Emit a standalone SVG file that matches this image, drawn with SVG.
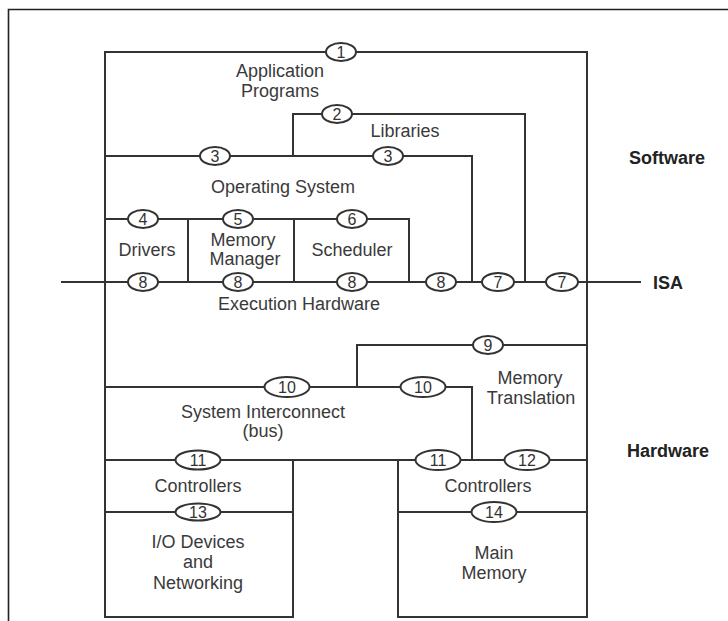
<svg xmlns="http://www.w3.org/2000/svg" width="728" height="621" viewBox="0 0 728 621">
  <style>
    .frame { fill: none; stroke: #222; stroke-width: 1.6; }
    .wire { fill: none; stroke: #333; stroke-width: 2; stroke-linejoin: miter; stroke-linecap: square; }
    .port ellipse { fill: #fff; stroke: #333; stroke-width: 2; }
    .port text { font-family: "Liberation Sans", Arial, sans-serif; font-size: 16px; fill: #333; text-anchor: middle; }
    .label { font-family: "Liberation Sans", Arial, sans-serif; font-size: 18px; fill: #3a3a3a; text-anchor: middle; }
    .side { font-family: "Liberation Sans", Arial, sans-serif; font-size: 18px; font-weight: bold; fill: #222; }
  </style>

  <!-- page frame -->
  <path class="frame" d="M8.5,621 V9.5 H728"/>

  <!-- interface lines between layers -->
  <g id="connectors">
    <!-- outer outline of the whole stack -->
    <path class="wire" d="M105,617 V52 H587 V617"/>
    <!-- libraries boundary (2) -->
    <path class="wire" d="M293,156 V114 H525 V282"/>
    <!-- OS boundary (3) -->
    <path class="wire" d="M105,156 H472 V282"/>
    <!-- OS module boxes -->
    <path class="wire" d="M105,219 H409 V282"/>
    <path class="wire" d="M188,219 V282"/>
    <path class="wire" d="M294,219 V282"/>
    <!-- ISA -->
    <path class="wire" d="M62,282 H640"/>
    <!-- memory translation (9) -->
    <path class="wire" d="M357,387 V345 H587"/>
    <!-- system interconnect (10) -->
    <path class="wire" d="M105,387 H472 V460"/>
    <!-- controllers (11, 12) -->
    <path class="wire" d="M105,460 H587"/>
    <!-- I/O devices box -->
    <path class="wire" d="M105,512 H293"/>
    <path class="wire" d="M293,460 V617 H105"/>
    <!-- main memory box -->
    <path class="wire" d="M398,460 V617 H587"/>
    <path class="wire" d="M398,512 H587"/>
  </g>

  <!-- layers -->
  <g id="application-programs">
    <text class="label" x="280" y="77">Application</text>
    <text class="label" x="280" y="97">Programs</text>
  </g>
  <g id="libraries">
    <text class="label" x="405" y="137">Libraries</text>
  </g>
  <g id="operating-system">
    <text class="label" x="283" y="193">Operating System</text>
  </g>
  <g id="drivers">
    <text class="label" x="147" y="256">Drivers</text>
  </g>
  <g id="memory-manager">
    <text class="label" x="243" y="246">Memory</text>
    <text class="label" x="245" y="265">Manager</text>
  </g>
  <g id="scheduler">
    <text class="label" x="352" y="256">Scheduler</text>
  </g>
  <g id="execution-hardware">
    <text class="label" x="299" y="310">Execution Hardware</text>
  </g>
  <g id="memory-translation">
    <text class="label" x="530" y="384">Memory</text>
    <text class="label" x="531" y="404">Translation</text>
  </g>
  <g id="system-interconnect">
    <text class="label" x="263" y="418">System Interconnect</text>
    <text class="label" x="263" y="437">(bus)</text>
  </g>
  <g id="io-controllers">
    <text class="label" x="198" y="492">Controllers</text>
  </g>
  <g id="io-devices">
    <text class="label" x="198" y="548">I/O Devices</text>
    <text class="label" x="198" y="568">and</text>
    <text class="label" x="198" y="589">Networking</text>
  </g>
  <g id="memory-controllers">
    <text class="label" x="488" y="492">Controllers</text>
  </g>
  <g id="main-memory">
    <text class="label" x="494" y="559">Main</text>
    <text class="label" x="494" y="579">Memory</text>
  </g>

  <!-- side captions -->
  <g id="software"><text class="side" x="629" y="164">Software</text></g>
  <g id="isa"><text class="side" x="653" y="289">ISA</text></g>
  <g id="hardware"><text class="side" x="627" y="457">Hardware</text></g>

  <!-- numbered interfaces -->
  <g id="if-1" class="port"><ellipse cx="341" cy="52" rx="15" ry="9"/><text x="341" y="58">1</text></g>
  <g id="if-2" class="port"><ellipse cx="337" cy="114" rx="15" ry="9"/><text x="337" y="120">2</text></g>
  <g id="if-3a" class="port"><ellipse cx="215" cy="156" rx="15" ry="9"/><text x="215" y="162">3</text></g>
  <g id="if-3b" class="port"><ellipse cx="388" cy="156" rx="15" ry="9"/><text x="388" y="162">3</text></g>
  <g id="if-4" class="port"><ellipse cx="143" cy="219" rx="15" ry="9"/><text x="143" y="225">4</text></g>
  <g id="if-5" class="port"><ellipse cx="238" cy="219" rx="15" ry="9"/><text x="238" y="225">5</text></g>
  <g id="if-6" class="port"><ellipse cx="352" cy="219" rx="15" ry="9"/><text x="352" y="225">6</text></g>
  <g id="if-8a" class="port"><ellipse cx="143" cy="282" rx="15" ry="9"/><text x="143" y="288">8</text></g>
  <g id="if-8b" class="port"><ellipse cx="238" cy="282" rx="15" ry="9"/><text x="238" y="288">8</text></g>
  <g id="if-8c" class="port"><ellipse cx="352" cy="282" rx="15" ry="9"/><text x="352" y="288">8</text></g>
  <g id="if-8d" class="port"><ellipse cx="441" cy="282" rx="15" ry="9"/><text x="441" y="288">8</text></g>
  <g id="if-7a" class="port"><ellipse cx="498" cy="282" rx="16" ry="9"/><text x="498" y="288">7</text></g>
  <g id="if-7b" class="port"><ellipse cx="562" cy="282" rx="16" ry="9"/><text x="562" y="288">7</text></g>
  <g id="if-9" class="port"><ellipse cx="488" cy="345" rx="15" ry="9"/><text x="488" y="351">9</text></g>
  <g id="if-10a" class="port"><ellipse cx="287" cy="387" rx="22.5" ry="10"/><text x="287" y="393">10</text></g>
  <g id="if-10b" class="port"><ellipse cx="423" cy="387" rx="22.5" ry="10"/><text x="423" y="393">10</text></g>
  <g id="if-11a" class="port"><ellipse cx="198" cy="460" rx="22.5" ry="9.5"/><text x="198" y="466">11</text></g>
  <g id="if-11b" class="port"><ellipse cx="438" cy="460" rx="22.5" ry="10"/><text x="438" y="466">11</text></g>
  <g id="if-12" class="port"><ellipse cx="527" cy="460" rx="22.5" ry="10"/><text x="527" y="466">12</text></g>
  <g id="if-13" class="port"><ellipse cx="198" cy="512" rx="22.5" ry="8.5"/><text x="198" y="518">13</text></g>
  <g id="if-14" class="port"><ellipse cx="494" cy="512" rx="22.5" ry="10"/><text x="494" y="518">14</text></g>
</svg>
